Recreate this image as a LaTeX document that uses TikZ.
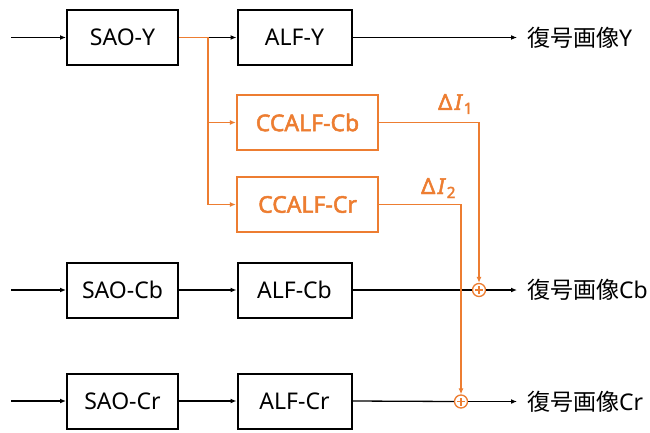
\documentclass[tikz,border=0pt]{standalone}
\usepackage{fontspec}
\setmainfont{Noto Sans}
\newfontfamily\jp{Noto Sans CJK JP}
\newfontfamily\obold{Noto Sans}[FakeBold=2.2]
\newfontfamily\obit{Noto Sans}[FakeBold=2.2,FakeSlant=0.2]
\usetikzlibrary{arrows.meta}
\definecolor{ora}{HTML}{ED7D31}
\tikzset{
  blk/.style={draw=black, line width=2pt, minimum height=55pt, inner sep=0pt, font=\fontsize{23}{27}\selectfont},
  oblk/.style={draw=ora, line width=2.2pt, minimum height=55pt, minimum width=141pt, inner sep=0pt, text=ora, font=\fontsize{23}{27}\selectfont\obold},
  conn/.style={draw=black, line width=1.3pt},
  arr/.style={conn, -{Latex[length=6pt,width=5pt]}},
  oconn/.style={draw=ora, line width=1.4pt},
  oarr/.style={oconn, -{Latex[length=6pt,width=5pt]}},
  outtxt/.style={anchor=west, inner xsep=10pt, inner ysep=0pt, font=\fontsize{23}{27}\selectfont},
  dlab/.style={anchor=base west, inner sep=0pt, text=ora, font=\fontsize{22}{26}\selectfont\obold},
  sumnode/.style={circle, draw=ora, line width=1.3pt, fill=white, minimum size=13pt, inner sep=0pt,
    path picture={\draw[ora, line width=1.5pt] (path picture bounding box.center) ++(-4pt,0) -- ++(8pt,0)
      (path picture bounding box.center) ++(0,-4pt) -- ++(0,8pt);}}
}
\begin{document}
\begin{tikzpicture}[x=1pt,y=-1pt]
\useasboundingbox[fill=white] (0,0) rectangle (650,433);
% boxes
\node[blk, minimum width=111pt] (saoY) at (122.5,37.5) {SAO-Y};
\node[blk, minimum width=114pt] (alfY) at (294.5,37.5) {ALF-Y};
\node[oblk] (ccb) at (307.5,122.5) {CCALF-Cb};
\node[oblk] (ccr) at (307.5,204.5) {CCALF-Cr};
\node[blk, minimum width=111pt] (saoCb) at (122.5,290) {SAO-Cb};
\node[blk, minimum width=114pt] (alfCb) at (294.5,290) {ALF-Cb};
\node[blk, minimum width=111pt] (saoCr) at (122.5,401) {SAO-Cr};
\node[blk, minimum width=114pt] (alfCr) at (294.5,401) {ALF-Cr};
% sums
\node[sumnode] (pb) at (479,290) {};
\node[sumnode] (pr) at (461,401.5) {};
% outputs
\node[outtxt] (outY) at (517,37.5) {{\jp 復号画像}Y};
\node[outtxt] (outCb) at (517,290) {{\jp 復号画像}Cb};
\node[outtxt] (outCr) at (517,401.5) {{\jp 復号画像}Cr};
% inputs
\coordinate (inY) at (11,37.5);
\coordinate (inCb) at (11,290);
\coordinate (inCr) at (11,401);
\coordinate (jn) at (208,37.5);
% labels
\node[dlab] (d1) at (438,110) {Δ\kern1pt{\obit I}\kern3pt\textsubscript{1}};
\node[dlab] (d2) at (421,194) {Δ\kern1pt{\obit I}\kern3pt\textsubscript{2}};
% black connectors
\draw[arr] (inY) -- (saoY.west);
\draw[arr] (inCb) -- (saoCb.west);
\draw[arr] (inCr) -- (saoCr.west);
\draw[arr] (jn) -- (alfY.west);
\draw[arr] (alfY.east) -- (outY.west);
\draw[arr] (saoCb.east) -- (alfCb.west);
\draw[arr] (saoCr.east) -- (alfCr.west);
\draw[conn] (alfCb.east) -- (pb.west);
\draw[arr] (pb.east) -- (outCb.west);
\draw[conn] (alfCr.east) -- (pr.west);
\draw[arr] (pr.east) -- (outCr.west);
% orange connectors
\draw[oconn] (saoY.east) -- (jn);
\draw[oarr] (jn) |- (ccb.west);
\draw[oarr] (jn) |- (ccr.west);
\draw[oarr] (ccb.east) -| (pb.north);
\draw[oarr] (ccr.east) -| (pr.north);
\end{tikzpicture}
\end{document}
